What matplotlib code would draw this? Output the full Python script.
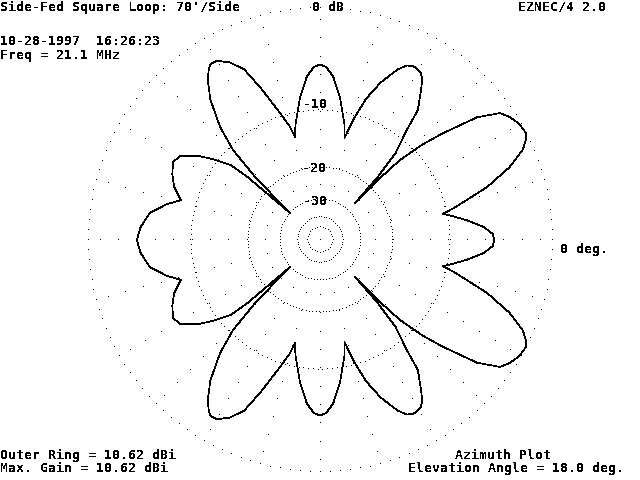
import numpy as np
import matplotlib
matplotlib.use("Agg")
import matplotlib.pyplot as plt

plt.rcParams['text.antialiased'] = False

# ---- data: azimuth pattern (upper half, symmetric about 0-180 axis) ----
# angle in degrees (CCW from 0 deg = right), gain in dB relative to outer ring
az_deg = [0, 2, 4.6, 7.7, 10, 12, 13.5, 15.2, 17.6, 21, 24, 26, 27.4, 29, 31, 33, 35.2, 38, 41, 43,
          45, 46, 46.6, 47.5, 49, 51.7, 53, 56, 57.5, 59, 60.6, 62, 63.6, 65.6, 69, 72, 74.5, 76.5,
          78, 82, 85.4, 88, 90, 92, 94.6, 98, 102, 103.6, 105, 107.5, 111.4, 114, 117, 120, 122,
          123, 125, 128, 131.5, 134, 136, 138, 139, 140, 143, 145, 149, 152, 156, 160, 164, 167,
          171, 176, 180]
gain_db = [-4.9, -5.05, -5.95, -7.7, -9.2, -10.5, -8.9, -7.3, -4.8, -2.3, -0.76, -0.2, 0.0, -0.05,
           -0.2, -0.45, -0.9, -2.6, -6.1, -8.7, -12.3, -17.2, -26.0, -17.2, -12.0, -8.7, -6.1,
           -4.3, -3.4, -2.95, -2.8, -2.8, -3.0, -3.7, -5.5, -7.7, -10.6, -13.6, -11.6, -8.2,
           -5.95, -5.0, -4.8, -5.0, -5.95, -8.2, -11.6, -13.4, -11.6, -9.5, -5.95, -3.7, -2.6,
           -1.96, -1.95, -2.2, -2.9, -4.55, -7.4, -10.6, -16.6, -30.2, -15.1, -11.75, -9.4,
           -7.95, -6.05, -5.7, -6.2, -6.9, -8.1, -6.6, -5.1, -4.35, -4.07]

ring_db = [0, -10, -20, -30, -40, -50]
ring_labels = ["-10", "-20", "-30"]

title = "Side-Fed Square Loop: 70'/Side"
date_line = "10-28-1997  16:26:23"
freq_line = "Freq = 21.1 MHz"
outer_ring = "Outer Ring = 10.62 dBi"
max_gain = "Max. Gain = 10.62 dBi"
plot_type = "Azimuth Plot"
elev_line = "Elevation Angle = 18.0 deg."


def arrl(db):
    return 0.89 ** (-np.asarray(db, dtype=float) / 2.0)


W, H = 640, 480
fig = plt.figure(figsize=(6.4, 4.8), dpi=100)
cx, cy, R = 320, 240, 232
ax = fig.add_axes([(cx - R) / W, (H - cy - R) / H, 2 * R / W, 2 * R / H], projection='polar')
ax.set_ylim(0, 1)
ax.axis('off')

# rings (dotted)
ring_dots = [144, 170, 135, 84, 54, 28]
for db, n in zip(ring_db, ring_dots):
    th = np.linspace(0, 2 * np.pi, n, endpoint=False)
    ax.plot(th, np.full(n, arrl(db)), ',', color='k', clip_on=False)
ax.plot([0], [0], ',', color='k')

# radial dotted lines every 15 deg
rad_r = (55 + 18.33 * np.arange(10)) / R
for a in np.arange(0, 360, 15):
    ax.plot(np.full(rad_r.size, np.deg2rad(a)), rad_r, ',', color='k', clip_on=False)

# pattern
a = np.array(az_deg)
g = np.array(gain_db)
full_a = np.concatenate([a, 360 - a[::-1][1:]])
full_g = np.concatenate([g, g[::-1][1:]])
ax.plot(np.deg2rad(full_a), arrl(full_g), color='k', lw=0.5, antialiased=False, clip_on=False)

font = dict(family='DejaVu Sans Mono', weight='bold', size=9.5, color='k')


def txt(x, ybase, s, **kw):
    fig.text(x / W, 1 - ybase / H, s, va='baseline', ha='left', **font, **kw)


txt(0, 11, title)
txt(312, 11, "0 dB")
txt(518, 11, "EZNEC/4 2.0")
txt(0, 45, date_line)
txt(0, 59, freq_line)
txt(303, 108, ring_labels[0])
txt(302, 172, ring_labels[1])
txt(303, 205, ring_labels[2])
txt(560, 253, "0 deg.")
txt(0, 459, outer_ring)
txt(0, 472, max_gain)
txt(455, 459, plot_type)
txt(408, 472, elev_line)

fig.savefig("out.png", dpi=100, facecolor='white')
